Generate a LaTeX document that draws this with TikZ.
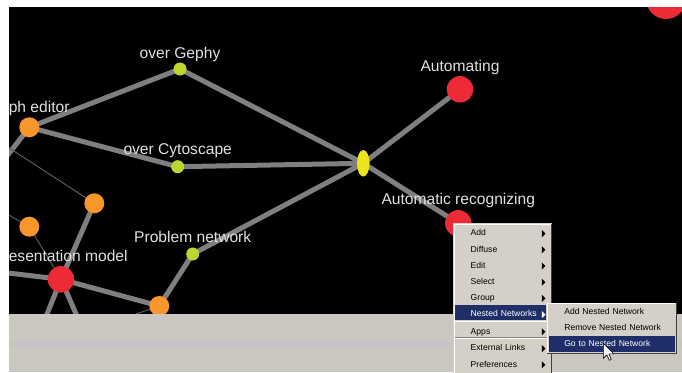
\documentclass[tikz,border=0pt]{standalone}
\usepackage{fontspec}
\setmainfont{Liberation Sans}
\usetikzlibrary{positioning,shapes.geometric}

\definecolor{linkgrey}{HTML}{7F7F7F}
\definecolor{thingrey}{HTML}{5C5C5C}
\definecolor{dotred}{HTML}{EC2B36}
\definecolor{dotorange}{HTML}{F7962B}
\definecolor{dotgreen}{HTML}{BFD630}
\definecolor{dotyellow}{HTML}{EDE51C}
\definecolor{barcolor}{HTML}{C9C7C0}
\definecolor{barstripe}{HTML}{C5C4C4}
\definecolor{menucolor}{HTML}{D4D0C8}
\definecolor{menuhigh}{HTML}{1F2E68}
\definecolor{menushade}{HTML}{808080}
\definecolor{menudark}{HTML}{404040}

\pgfdeclarelayer{panel}
\pgfdeclarelayer{links}
\pgfsetlayers{panel,links,main}

\begin{document}
\begin{tikzpicture}[x=1pt,y=-1pt,
    bignode/.style={circle,fill=dotred,minimum size=26.5pt,inner sep=0pt},
    midnode/.style={circle,fill=dotorange,minimum size=20pt,inner sep=0pt},
    smallnode/.style={circle,fill=dotgreen,minimum size=13pt,inner sep=0pt},
    hubnode/.style={ellipse,fill=dotyellow,minimum width=12.5pt,minimum height=26.5pt,inner sep=0pt},
    thicklink/.style={draw=linkgrey,line width=5pt},
    thinlink/.style={draw=thingrey,line width=1pt},
    lbl/.style={inner sep=0pt,text depth=0pt,text=white!88!black,font=\fontsize{15.6}{18}\selectfont},
    menuitem/.style={inner sep=0pt,text width=72pt,align=left,minimum height=15.8pt,text height=6.5pt,text depth=2pt,font=\fontsize{8.6}{10}\selectfont},
    subitem/.style={menuitem,text width=104pt},
    menuarrow/.style={fill=black}]
    \useasboundingbox (0,0) rectangle (682,372);
    \begin{pgfonlayer}{panel}
      \fill[white] (0,0) rectangle (682,372);
      \fill[black] (9,7) rectangle (682,314);
    \end{pgfonlayer}

    \begin{scope}
      \clip (9,7) rectangle (682,314);
      \node (corner) [bignode,minimum size=40pt] at (666,-1) {};
      \node (hub) [hubnode] at (363.3,163.3) {};
      \node (gephy) [smallnode] at (180,69) {};
      \node (cyto) [smallnode] at (177.7,166.7) {};
      \node (prob) [smallnode] at (192.7,254) {};
      \node (auto) [bignode] at (460,89.3) {};
      \node (recog) [bignode] at (458.3,223.3) {};
      \node (ged) [midnode] at (29.3,127.3) {};
      \node (or1) [midnode] at (94.3,203.3) {};
      \node (or2) [midnode] at (29.3,226.7) {};
      \node (or3) [midnode] at (159.3,306) {};
      \node (pres) [bignode] at (61,279.3) {};
      \node (gephytxt) [lbl,above=3.4pt of gephy] {over Gephy};
      \node (autotxt) [lbl,above=4pt of auto] {Automating};
      \node (cytotxt) [lbl,above=5pt of cyto] {over Cytoscape};
      \node (probtxt) [lbl,above=4.5pt of prob] {Problem network};
      \node (recogtxt) [lbl,above=5pt of recog] {Automatic recognizing};
      \node (gedtxt) [lbl,anchor=base west] at (8.6,112.7) {ph editor};
      \node (prestxt) [lbl,anchor=base west] at (8.6,261.7) {esentation model};
      \coordinate (edA) at (0,165);
      \coordinate (edB) at (0,142);
      \coordinate (edC) at (0,210);
      \coordinate (edD) at (0,272);
      \coordinate (edE) at (40.6,330);
      \coordinate (edF) at (83,330);
      \coordinate (edG) at (110,323);
    \end{scope}

    \begin{pgfonlayer}{links}
      \begin{scope}
        \clip (9,7) rectangle (682,314);
        \draw[thicklink] (ged.center) -- (gephy.center);
        \draw[thicklink] (gephy.center) -- (hub.center);
        \draw[thicklink] (ged.center) -- (cyto.center);
        \draw[thicklink] (cyto.center) -- (hub.center);
        \draw[thicklink] (hub.center) -- (auto.center);
        \draw[thicklink] (hub.center) -- (recog.center);
        \draw[thicklink] (hub.center) -- (prob.center);
        \draw[thicklink] (prob.center) -- (or3.center);
        \draw[thicklink] (pres.center) -- (or3.center);
        \draw[thicklink] (pres.center) -- (or1.center);
        \draw[thicklink] (ged.center) -- (edA);
        \draw[thicklink] (pres.center) -- (edD);
        \draw[thicklink] (pres.center) -- (edE);
        \draw[thicklink] (pres.center) -- (edF);
        \draw[thinlink] (edB) -- (or1.center);
        \draw[thinlink] (edC) -- (or2.center);
        \draw[thinlink] (or2.center) -- (pres.center);
        \draw[thinlink] (or3.center) -- (edG);
      \end{scope}
    \end{pgfonlayer}

    \fill[barcolor] (9,314) rectangle (682,372);
    \fill[barstripe] (9,341.7) rectangle (682,346);

    % context menu
    \fill[menucolor] (453,223) rectangle (551.5,373);
    \draw[white,line width=1pt] (454,373) -- (454,224) -- (550.5,224);
    \draw[menudark,line width=1pt] (551,223.5) -- (551,373);
    \node (madd) [menuitem] at (506.7,233.6) {Add};
    \node (mdiff) [menuitem,below=0pt of madd] {Diffuse};
    \node (medit) [menuitem,below=0pt of mdiff] {Edit};
    \node (msel) [menuitem,below=0pt of medit] {Select};
    \node (mgroup) [menuitem,below=0pt of msel] {Group};
    \fill[menuhigh] (455,304.6) rectangle (546,320.4);
    \node (mnest) [menuitem,below=0pt of mgroup,text=white] {Nested Networks};
    \node (mapps) [menuitem,below=1pt of mnest] {Apps};
    \node (mext) [menuitem,below=0.6pt of mapps] {External Links};
    \node (mpref) [menuitem,below=0pt of mext] {Preferences};
    \draw[menushade,line width=0.8pt] (455,321) -- (549,321);
    \draw[white,line width=0.8pt] (455,321.8) -- (549,321.8);
    \draw[menushade,line width=0.8pt] (455,337.6) -- (549,337.6);
    \draw[white,line width=0.8pt] (455,338.4) -- (549,338.4);
    \foreach \m in {madd,mdiff,medit,msel,mgroup,mapps,mext,mpref}
      \fill[menuarrow] (\m.east) ++(-1,-3.5) -- ++(3.5,3.5) -- ++(-3.5,3.5) -- cycle;
    \fill[white] (mnest.east) ++(-1,-3.5) -- ++(3.5,3.5) -- ++(-3.5,3.5) -- cycle;

    % submenu
    \fill[menucolor] (547,303) rectangle (677,354);
    \draw[white,line width=1pt] (547.5,353.5) -- (547.5,303.5) -- (676.5,303.5);
    \draw[menudark,line width=1pt] (547,353.5) -- (676.5,353.5) -- (676.5,303);
    \node (sadd) [subitem] at (616.3,312.3) {Add Nested Network};
    \node (srem) [subitem,below=0pt of sadd] {Remove Nested Network};
    \fill[menuhigh] (548.5,336) rectangle (675,352);
    \node (sgo) [subitem,below=0pt of srem,text=white] {Go to Nested Network};

    \filldraw[fill=white,draw=black,line width=0.6pt,line join=round]
      (603.3,343.3) -- ++(0,15) -- ++(3.5,-3.5) -- ++(2.5,5.5) -- ++(2,-1)
      -- ++(-2.5,-5.5) -- ++(5,0) -- cycle;
  \end{tikzpicture}
\end{document}
